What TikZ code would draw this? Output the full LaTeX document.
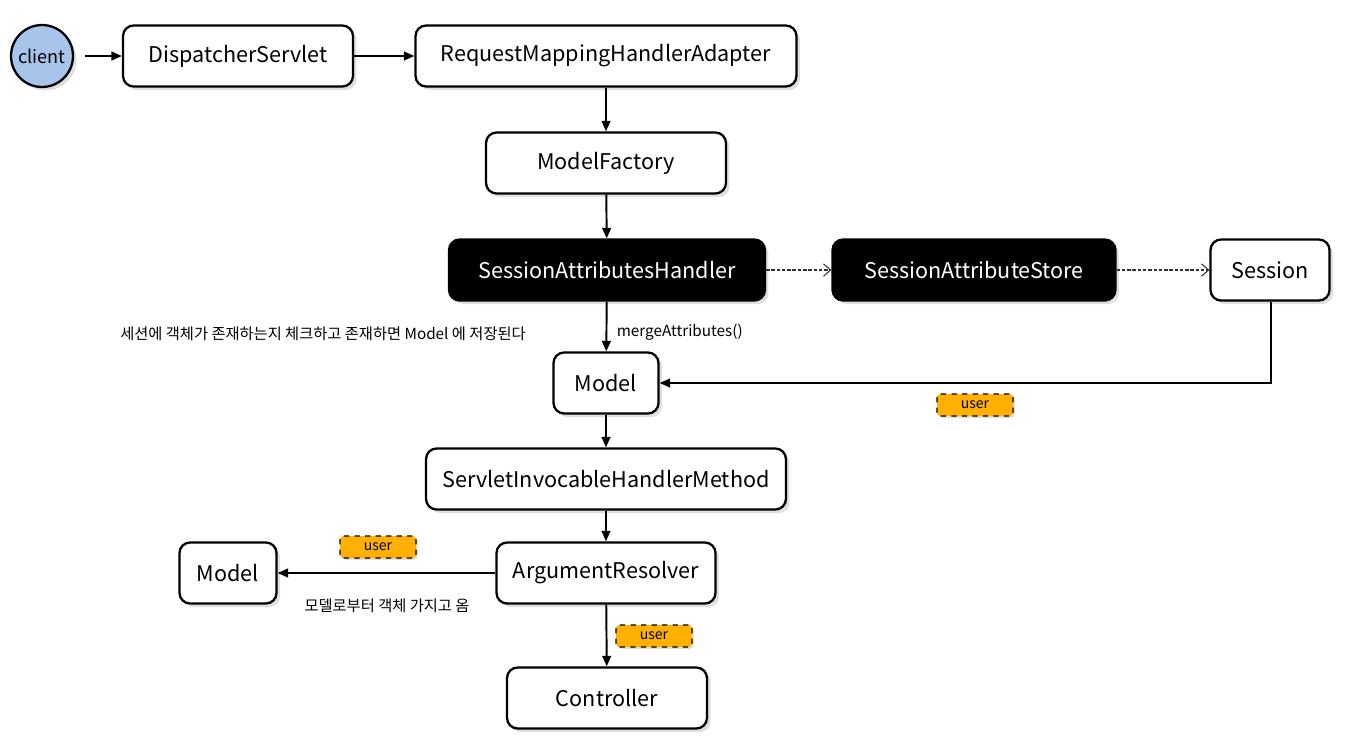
\documentclass[tikz,border=0pt]{standalone}
\usepackage{fontspec}
\setmainfont{Noto Sans CJK KR}
\usepackage{xcolor}
\definecolor{clientblue}{HTML}{A9C4EB}
\definecolor{tagorange}{HTML}{FFB000}
\usetikzlibrary{shapes,arrows,positioning,calc,arrows.meta,shadows}
\tikzset{
    box/.style={draw, line width=1.3pt, rounded corners=6pt, fill=white, minimum height=1.22cm,
        drop shadow={shadow xshift=2pt, shadow yshift=-2pt, opacity=0.25}, font=\fontsize{12.3}{14}\selectfont},
    darkbox/.style={box, fill=black, text=white},
    tag/.style={draw, dashed, line width=0.6pt, rounded corners=2pt, fill=tagorange, minimum width=1.52cm, minimum height=0.44cm,
        inner sep=0pt, drop shadow={shadow xshift=1pt, shadow yshift=-1pt, opacity=0.25}, font=\fontsize{8}{9}\selectfont},
    flow/.style={line width=1.1pt, -{Triangle[length=6pt,width=5pt]}},
    dep/.style={line width=0.6pt, dash pattern=on 2pt off 1pt, draw=black!80, -{Straight Barb[length=4pt,width=7pt]}},
    note/.style={font=\fontsize{8.7}{10}\selectfont},
}
\begin{document}
\begin{tikzpicture}[x=0.02cm, y=-0.02cm]
    \useasboundingbox (0,0) rectangle (1349,745);

    \node[circle, draw, line width=1.3pt, fill=clientblue, minimum size=1.24cm, inner sep=0pt,
        drop shadow={shadow xshift=2pt, shadow yshift=-2pt, opacity=0.25}, font=\fontsize{10.3}{12}\selectfont] (client) at (42,56) {client};
    \node[box, minimum width=4.6cm] (dispatcher) at (238,56) {DispatcherServlet};
    \node[box, minimum width=7.62cm] (adapter) at (606,56) {RequestMappingHandlerAdapter};
    \node[box, minimum width=4.8cm] (factory) at (606,163) {ModelFactory};
    \node[darkbox, minimum width=6.32cm] (sahandler) at (607,270) {SessionAttributesHandler};
    \node[darkbox, minimum width=5.66cm] (sastore) at (974,270) {SessionAttributeStore};
    \node[box, minimum width=2.38cm] (session) at (1270,270) {Session};
    \node[box, minimum width=2.1cm] (model) at (606,383) {Model};
    \node[box, minimum width=7.2cm] (invocable) at (606,479) {ServletInvocableHandlerMethod};
    \node[box, minimum width=4.38cm] (resolver) at (606,573) {ArgumentResolver};
    \node[box, minimum width=1.94cm] (model2) at (228,573) {Model};
    \node[box, minimum width=4cm] (controller) at (607,698) {Controller};

    \coordinate (clientout) at (85,56);
    \coordinate (corner) at (1271,383);

    \draw[flow] (clientout) -- (dispatcher);
    \draw[flow] (dispatcher) -- (adapter);
    \draw[flow] (adapter) -- (factory);
    \draw[flow] (factory) -- (sahandler);
    \draw[dep] (sahandler) -- (sastore);
    \draw[dep] (sastore) -- (session);
    \draw[flow] (sahandler) -- node[right, note, xshift=2pt, yshift=-3pt] {mergeAttributes()} (model);
    \draw[flow] (session.south -| corner) -- (corner) -- (model);
    \draw[flow] (model) -- (invocable);
    \draw[flow] (invocable) -- (resolver);
    \draw[flow] (resolver) -- (model2);
    \draw[flow] (resolver) -- (controller);

    \node[tag] (tag1) at (975,405) {user};
    \node[tag] (tag2) at (378,547) {user};
    \node[tag] (tag3) at (654,636) {user};

    \node[note] (note1) at (323,334) {세션에 객체가 존재하는지 체크하고 존재하면 Model 에 저장된다};
    \node[note] (note2) at (387,606) {모델로부터 객체 가지고 옴};
\end{tikzpicture}
\end{document}
